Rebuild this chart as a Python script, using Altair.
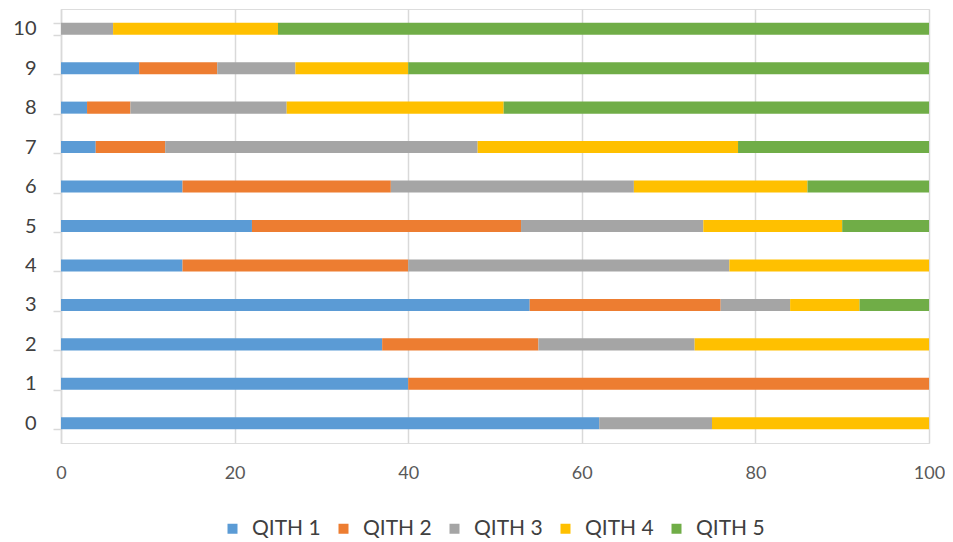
import altair as alt
import pandas as pd

categories = ["0", "1", "2", "3", "4", "5", "6", "7", "8", "9", "10"]
series = ["QITH 1", "QITH 2", "QITH 3", "QITH 4", "QITH 5"]
colors = ["#5B9BD5", "#ED7D31", "#A5A5A5", "#FFC000", "#70AD47"]

qith1 = [62, 40, 37, 54, 14, 22, 14, 4, 3, 9, 0]
qith2 = [0, 60, 18, 22, 26, 31, 24, 8, 5, 9, 0]
qith3 = [13, 0, 18, 8, 37, 21, 28, 36, 18, 9, 6]
qith4 = [25, 0, 27, 8, 23, 16, 20, 30, 25, 13, 19]
qith5 = [0, 0, 0, 8, 0, 10, 14, 22, 49, 60, 75]

values = [qith1, qith2, qith3, qith4, qith5]
rows = []
for si, (name, vals) in enumerate(zip(series, values)):
    for cat, v in zip(categories, vals):
        rows.append({"cat": cat, "series": name, "value": v, "order": si})
df = pd.DataFrame(rows)

chart = alt.Chart(df).mark_bar().encode(
    x=alt.X("value:Q", stack="zero",
            scale=alt.Scale(domain=[0, 100], nice=False),
            axis=alt.Axis(title=None, values=[0, 20, 40, 60, 80, 100],
                          grid=True, gridColor="#D9D9D9", gridWidth=1.5,
                          domain=False, ticks=False, labelPadding=21,
                          labelFont="Lato", labelFontSize=18,
                          labelColor="#595959", labelFlush=False)),
    y=alt.Y("cat:N", sort=list(reversed(categories)),
            scale=alt.Scale(paddingInner=0.695, paddingOuter=0.3475),
            axis=alt.Axis(title=None, domainColor="#D9D9D9", domainWidth=1.5,
                          tickColor="#D9D9D9", tickWidth=1.5, tickSize=8,
                          tickBand="extent", labelPadding=17, minExtent=53,
                          labelFont="Lato", labelFontSize=20,
                          labelColor="#404040", grid=False)),
    color=alt.Color("series:N",
                    scale=alt.Scale(domain=series, range=colors),
                    legend=alt.Legend(title=None, orient="none",
                                      direction="horizontal", columns=5,
                                      legendX=161, legendY=509,
                                      symbolType="square", symbolSize=100,
                                      symbolStrokeWidth=0,
                                      labelFont="Lato", labelFontSize=21,
                                      labelColor="#404040", labelOffset=9,
                                      columnPadding=12)),
    order=alt.Order("order:Q", sort="ascending"),
).properties(
    width=868, height=434,
    padding={"left": 0, "top": -9, "right": 0, "bottom": 0},
).configure_view(stroke=None).configure(background="white")

chart.save("out.html", embed_options={"renderer": "svg", "actions": False})
